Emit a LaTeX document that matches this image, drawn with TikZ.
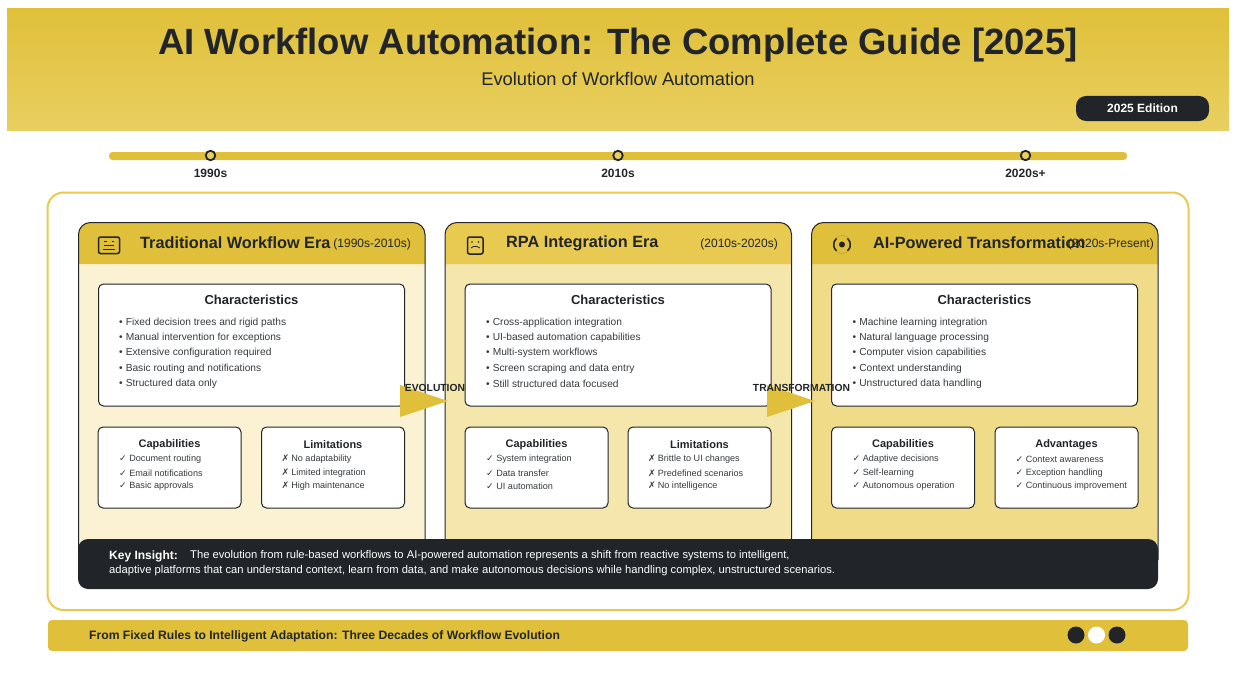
\documentclass[tikz,border=0pt]{standalone}
\usepackage{fontspec}
\setmainfont{Liberation Sans}
\newfontfamily\symfont{DejaVu Sans}
\usepackage{xcolor}

\definecolor{ink}{HTML}{212529}
\definecolor{gold}{HTML}{E0C03A}
\definecolor{goldlight}{HTML}{E8CF60}
\definecolor{bandtwo}{HTML}{E8CA50}
\definecolor{paneone}{HTML}{FAF2D3}
\definecolor{panetwo}{HTML}{F5E6AB}
\definecolor{panethree}{HTML}{EFDB88}

\tikzset{
    paneline/.style={draw=ink, line width=1pt},
    infobox/.style={draw=ink, fill=white, line width=1pt, rounded corners=5pt, inner sep=0pt},
    boxhead/.style={text=ink, font=\bfseries\fontsize{13}{15}\selectfont},
    subhead/.style={text=ink, font=\bfseries\fontsize{11}{13}\selectfont},
    erahead/.style={text=ink, anchor=west, inner sep=0pt, font=\bfseries\fontsize{16.25}{18}\selectfont},
    eradate/.style={text=ink, anchor=east, inner sep=0pt, font=\fontsize{12}{14}\selectfont},
    listline/.style={text=ink!90, anchor=west, inner sep=0pt, font=\fontsize{10.2}{12}\selectfont},
    tickline/.style={text=ink!90, anchor=west, inner sep=0pt, font=\fontsize{9.1}{11}\selectfont},
    yearlabel/.style={text=ink, font=\bfseries\fontsize{12}{14}\selectfont},
    flowlabel/.style={text=ink, font=\bfseries\fontsize{10.3}{12}\selectfont},
    yeardot/.style={circle, draw=ink, fill=goldlight, line width=1.8pt, minimum size=9.5pt, inner sep=0pt},
    icon/.style={draw=ink, line width=1.5pt},
}

\begin{document}
\begin{tikzpicture}[x=1pt, y=-1pt]

    \useasboundingbox (0,0) rectangle (1235,677);

    % title band
    \shade[top color=gold, bottom color=goldlight] (7,9) rectangle (1229,130.5);
    \node[text=ink, font=\bfseries\fontsize{36.5}{40}\selectfont] (title) at (618,45) {AI Workflow Automation: The Complete Guide [2025]};
    \node[text=ink, font=\fontsize{18.3}{20}\selectfont] (subtitle) at (618,79) {Evolution of Workflow Automation};
    \node[fill=ink, text=white, rounded corners=10pt, minimum width=133pt, minimum height=25pt, font=\bfseries\fontsize{12}{14}\selectfont] (edition) at (1142.5,108.5) {\raisebox{-1pt}{2025 Edition}};

    % timeline
    \fill[gold, rounded corners=3.5pt] (109,152) rectangle (1127,160);
    \foreach \xpos/\yr [count=\i] in {210.5/1990s, 618/2010s, 1025.5/2020s+} {
        \node[yeardot] (dot\i) at (\xpos,155.5) {};
        \node[yearlabel] (year\i) at (\xpos,173) {\yr};
    }

    % outer frame
    \draw[bandtwo, line width=2pt, rounded corners=16pt] (47.5,192.5) rectangle (1188.5,610);

    % era panes
    \fill[paneone] (78.5,234) rectangle (425,560);
    \fill[panetwo] (445,234) rectangle (791.5,560);
    \fill[panethree] (811.5,234) rectangle (1158,560);

    \fill[gold] (78.5,264) -- (78.5,234.5) arc[start angle=180, end angle=90, radius=12pt] -- (413,222.5) arc[start angle=90, end angle=0, radius=12pt] -- (425,264) -- cycle;
    \fill[bandtwo] (445,264) -- (445,234.5) arc[start angle=180, end angle=90, radius=12pt] -- (779.5,222.5) arc[start angle=90, end angle=0, radius=12pt] -- (791.5,264) -- cycle;
    \fill[gold] (811.5,264) -- (811.5,234.5) arc[start angle=180, end angle=90, radius=12pt] -- (1146,222.5) arc[start angle=90, end angle=0, radius=12pt] -- (1158,264) -- cycle;

    \draw[paneline] (78.5,560) -- (78.5,234.5) arc[start angle=180, end angle=90, radius=12pt] -- (413,222.5) arc[start angle=90, end angle=0, radius=12pt] -- (425,560);
    \draw[paneline] (445,560) -- (445,234.5) arc[start angle=180, end angle=90, radius=12pt] -- (779.5,222.5) arc[start angle=90, end angle=0, radius=12pt] -- (791.5,560);
    \draw[paneline] (811.5,560) -- (811.5,234.5) arc[start angle=180, end angle=90, radius=12pt] -- (1146,222.5) arc[start angle=90, end angle=0, radius=12pt] -- (1158,560);

    % icons
    \draw[icon, rounded corners=2pt] (98.5,237) rectangle (119.5,253.5);
    \draw[ink, line width=0.8pt] (104,241.5) -- (106.5,241.5) (111.5,241.5) -- (114,241.5) (104,245.2) -- (114,245.2) (103,249) -- (115,249);
    \draw[icon, rounded corners=2pt] (467.5,237) rectangle (483,254);
    \fill[ink] (472,242) circle (0.9pt) (478.5,242) circle (0.9pt);
    \draw[ink, line width=0.8pt] (471,248) -- (473.5,246.5) -- (477,246.5) -- (480,248);
    \draw[gold!70!ink, line width=0.3pt] (842,244.5) circle (9pt);
    \fill[ink] (842,244.5) circle (3pt);
    \draw[ink, line width=1.5pt] (836.5,238.5) arc[start angle=130, end angle=230, radius=8pt];
    \draw[ink, line width=1.5pt] (847.5,238.5) arc[start angle=50, end angle=-50, radius=8pt];

    % era headings
    \node[erahead] (head1) at (140,243) {Traditional Workflow Era};
    \node[eradate] (date1) at (411,244) {(1990s-2010s)};
    \node[erahead] (head2) at (506,243) {RPA Integration Era};
    \node[eradate] (date2) at (778,244) {(2010s-2020s)};
    \node[erahead] (head3) at (873,243) {AI-Powered Transformation};
    \node[eradate] (date3) at (1154,244) {(2020s-Present)};

    % characteristics boxes
    \node[infobox, minimum width=306pt, minimum height=122pt] (char1) at (251.5,345) {};
    \node[infobox, minimum width=306pt, minimum height=122pt] (char2) at (618,345) {};
    \node[infobox, minimum width=306pt, minimum height=122pt] (char3) at (984.5,345) {};
    \node[boxhead] (charhead1) at (251.5,300) {Characteristics};
    \node[boxhead] (charhead2) at (618,300) {Characteristics};
    \node[boxhead] (charhead3) at (984.5,300) {Characteristics};

    \foreach \txt [count=\i] in {Fixed decision trees and rigid paths, Manual intervention for exceptions, Extensive configuration required, Basic routing and notifications, Structured data only}
        \node[listline] (tradline\i) at (119,307.5+15.25*\i) {•\hspace{3pt}\txt};
    \foreach \txt [count=\i] in {Cross-application integration, UI-based automation capabilities, Multi-system workflows, Screen scraping and data entry, Still structured data focused}
        \node[listline] (rpaline\i) at (486,307.5+15.25*\i) {•\hspace{3pt}\txt};
    \foreach \txt [count=\i] in {Machine learning integration, Natural language processing, Computer vision capabilities, Context understanding, Unstructured data handling}
        \node[listline] (ailine\i) at (852.5,307.5+15.25*\i) {•\hspace{3pt}\txt};

    % lower boxes
    \foreach \xpos/\nm/\hd in {169.5/tradcap/Capabilities, 333/tradlim/Limitations, 536.5/rpacap/Capabilities, 699.5/rpalim/Limitations, 903/aicap/Capabilities, 1066.5/aiadv/Advantages} {
        \node[infobox, minimum width=143pt, minimum height=81pt] (\nm) at (\xpos,467.5) {};
        \node[subhead] (\nm head) at (\xpos,444.5) {\hd};
    }

    \foreach \txt [count=\i] in {Document routing, Email notifications, Basic approvals}
        \node[tickline] (tradcap\i) at (119,445.8+13.5*\i) {{\symfont ✓}\hspace{2.5pt}\txt};
    \foreach \txt [count=\i] in {No adaptability, Limited integration, High maintenance}
        \node[tickline] (tradlim\i) at (281.5,445.8+13.5*\i) {{\symfont ✗}\hspace{2pt}\txt};
    \foreach \txt [count=\i] in {System integration, Data transfer, UI automation}
        \node[tickline] (rpacap\i) at (486,445.8+13.5*\i) {{\symfont ✓}\hspace{2.5pt}\txt};
    \foreach \txt [count=\i] in {Brittle to UI changes, Predefined scenarios, No intelligence}
        \node[tickline] (rpalim\i) at (648,445.8+13.5*\i) {{\symfont ✗}\hspace{2pt}\txt};
    \foreach \txt [count=\i] in {Adaptive decisions, Self-learning, Autonomous operation}
        \node[tickline] (aicap\i) at (852.5,445.8+13.5*\i) {{\symfont ✓}\hspace{2.5pt}\txt};
    \foreach \txt [count=\i] in {Context awareness, Exception handling, Continuous improvement}
        \node[tickline] (aiadv\i) at (1015.5,445.8+13.5*\i) {{\symfont ✓}\hspace{2.5pt}\txt};

    % flow arrows
    \fill[gold] (400,385) -- (448,401) -- (400,417) -- cycle;
    \fill[gold] (767,385) -- (815,401) -- (767,417) -- cycle;
    \node[flowlabel] (evolution) at (435,388) {EVOLUTION};
    \node[flowlabel] (transformation) at (801.5,388) {TRANSFORMATION};

    % insight
    \fill[ink, rounded corners=10pt] (78,539) rectangle (1158,589);
    \node[text=white, anchor=west, inner sep=0pt, font=\bfseries\fontsize{12}{14}\selectfont] (insightkey) at (109,556) {Key Insight:};
    \node[text=white, anchor=west, inner sep=0pt, font=\fontsize{11.2}{13}\selectfont] (insightone) at (190,556) {The evolution from rule-based workflows to AI-powered automation represents a shift from reactive systems to intelligent,};
    \node[text=white, anchor=west, inner sep=0pt, font=\fontsize{11.2}{13}\selectfont] (insighttwo) at (109,571) {adaptive platforms that can understand context, learn from data, and make autonomous decisions while handling complex, unstructured scenarios.};

    % footer
    \fill[gold, rounded corners=4pt] (48,620) rectangle (1188,651);
    \node[text=ink, anchor=west, inner sep=0pt, font=\bfseries\fontsize{12.15}{14}\selectfont] (footer) at (89,636) {From Fixed Rules to Intelligent Adaptation: Three Decades of Workflow Evolution};
    \fill[ink] (1076,635) circle (8.5pt);
    \fill[white] (1096.5,635) circle (8.5pt);
    \fill[ink] (1117,635) circle (8.5pt);

\end{tikzpicture}
\end{document}
